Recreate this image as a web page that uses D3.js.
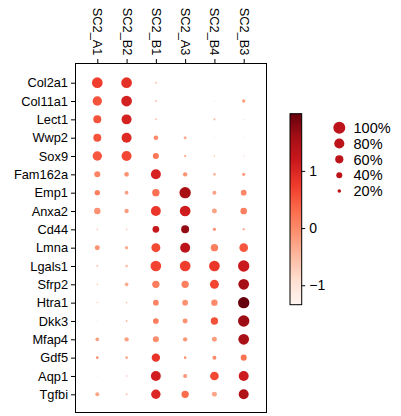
<!DOCTYPE html>
<html>
<head>
<meta charset="utf-8">
<script src="https://cdn.jsdelivr.net/npm/d3@7"></script>
<style>
  html, body { margin: 0; padding: 0; background: #fff; }
  svg text { font-family: "Liberation Sans", Arial, sans-serif; fill: #000; }
</style>
</head>
<body>
<div id="chart"></div>
<script>
// Cluster columns and marker genes
const groups = ["SC2_A1", "SC2_B2", "SC2_B1", "SC2_A3", "SC2_B4", "SC2_B3"];
const genes = ["Col2a1", "Col11a1", "Lect1", "Wwp2", "Sox9", "Fam162a", "Emp1", "Anxa2",
  "Cd44", "Lmna", "Lgals1", "Sfrp2", "Htra1", "Dkk3", "Mfap4", "Gdf5", "Aqp1", "Tgfbi"];

// Fraction of cells expressing each gene (rows follow genes, columns follow groups)
const fractions = [
  [0.86, 0.86, 0.09, 0.00, 0.00, 0.00],
  [0.72, 0.86, 0.09, 0.00, 0.04, 0.18],
  [0.58, 0.78, 0.09, 0.00, 0.11, 0.04],
  [0.58, 0.78, 0.28, 0.16, 0.04, 0.04],
  [0.72, 0.78, 0.40, 0.11, 0.07, 0.05],
  [0.40, 0.28, 0.78, 0.26, 0.13, 0.18],
  [0.34, 0.21, 0.52, 0.93, 0.23, 0.37],
  [0.43, 0.26, 0.78, 0.86, 0.31, 0.46],
  [0.07, 0.07, 0.46, 0.58, 0.16, 0.11],
  [0.31, 0.18, 0.68, 0.78, 0.52, 0.65],
  [0.09, 0.13, 0.86, 0.86, 0.86, 0.93],
  [0.07, 0.21, 0.52, 0.52, 0.68, 0.86],
  [0.05, 0.07, 0.37, 0.37, 0.43, 0.93],
  [0.04, 0.09, 0.37, 0.31, 0.52, 0.93],
  [0.21, 0.26, 0.40, 0.26, 0.31, 0.86],
  [0.13, 0.13, 0.62, 0.13, 0.23, 0.40],
  [0.04, 0.07, 0.78, 0.23, 0.65, 0.78],
  [0.23, 0.09, 0.72, 0.52, 0.31, 0.78]
];

// Scaled mean expression per gene and group
const expression = [
  [ 0.73,  0.86, -0.60, -1.00, -1.34, -1.00],
  [ 0.53,  1.06, -0.60, -1.00, -0.80, -0.22],
  [ 0.53,  1.06, -0.60, -1.00, -0.55, -0.80],
  [ 0.53,  0.95,  0.00, -0.34, -0.80, -0.80],
  [ 0.50,  0.63,  0.20, -0.40, -0.60, -0.70],
  [ 0.06, -0.09,  1.04, -0.10, -0.40, -0.20],
  [ 0.10, -0.20,  0.27,  1.56, -0.24,  0.03],
  [-0.07, -0.20,  0.80,  1.13, -0.26,  0.10],
  [-0.60, -0.60,  1.23,  1.70,  0.00, -0.24],
  [-0.10, -0.34,  0.63,  1.33,  0.10,  0.50],
  [-0.60, -0.50,  0.67,  0.73,  0.80,  1.17],
  [-0.60, -0.34,  0.13,  0.10,  0.65,  1.58],
  [-0.60, -0.60,  0.06, -0.07,  0.01,  2.00],
  [-0.80, -0.50,  0.13, -0.07,  0.55,  1.63],
  [-0.21, -0.24, -0.05, -0.14, -0.18,  1.55],
  [-0.05, -0.24,  0.82, -0.10,  0.00,  0.24],
  [-0.80, -0.60,  1.10, -0.13,  0.63,  1.14],
  [-0.26, -0.60,  0.98,  0.30, -0.28,  1.45]
];

const colorTicks = [-1, 0, 1];
const sizeLegend = [1.0, 0.8, 0.6, 0.4, 0.2];
const sizeLegendLabels = ["100%", "80%", "60%", "40%", "20%"];

// Reds palette (ColorBrewer, linear between stops)
const redsStops = ["#fff5f0", "#fee0d2", "#fcbba1", "#fc9272", "#fb6a4a",
  "#ef3b2c", "#cb181d", "#a50f15", "#67000d"];

const W = 401, H = 416;
const svg = d3.select("#chart").append("svg")
  .attr("width", W).attr("height", H);

const frame = { left: 75, top: 63, right: 266, bottom: 412 };

const x = d3.scalePoint().domain(groups).range([97.3, 243.7]);
const y = d3.scalePoint().domain(genes).range([82.7, 394.3]);

const valueExtent = d3.extent(expression.flat());
const color = d3.scaleLinear()
  .domain(d3.range(redsStops.length).map(i =>
    valueExtent[0] + (valueExtent[1] - valueExtent[0]) * i / (redsStops.length - 1)))
  .range(redsStops)
  .interpolate(d3.interpolateRgb)
  .clamp(true);

const radius = d3.scalePow().exponent(0.75).domain([0, 1]).range([0, 6]);

// Dots
const cells = [];
genes.forEach((g, i) => groups.forEach((c, j) => {
  cells.push({ gene: g, group: c, frac: fractions[i][j], value: expression[i][j] });
}));

svg.append("g").selectAll("circle")
  .data(cells.filter(d => d.frac > 0))
  .join("circle")
  .attr("cx", d => x(d.group))
  .attr("cy", d => y(d.gene))
  .attr("r", d => radius(d.frac))
  .attr("fill", d => color(d.value));

// Frame
svg.append("rect")
  .attr("x", frame.left + 0.5).attr("y", frame.top + 0.5)
  .attr("width", frame.right - frame.left)
  .attr("height", frame.bottom - frame.top)
  .attr("fill", "none").attr("stroke", "#000").attr("stroke-width", 1);

// Left axis (genes)
const yAxis = svg.append("g")
  .attr("transform", `translate(${frame.left + 0.5},0)`)
  .call(d3.axisLeft(y).tickSize(4.5).tickPadding(3));
yAxis.select(".domain").remove();
yAxis.selectAll("text")
  .style("font-size", "12.8px")
  .style("font-family", "'Liberation Sans', Arial, sans-serif");

// Top axis (groups), labels read top to bottom
const xAxis = svg.append("g")
  .attr("transform", `translate(0,${frame.top + 0.5})`)
  .call(d3.axisTop(x).tickSize(4.5).tickPadding(3));
xAxis.select(".domain").remove();
xAxis.selectAll("text")
  .style("font-size", "12.8px")
  .style("font-family", "'Liberation Sans', Arial, sans-serif")
  .attr("text-anchor", "end")
  .attr("transform", "translate(0,-8) rotate(90)")
  .attr("x", 0).attr("y", 0).attr("dy", "0.35em");

// Colorbar
const cb = { x: 290, y0: 113.7, y1: 304.7, w: 11.7 };
const cbScale = d3.scaleLinear().domain(valueExtent).range([cb.y1, cb.y0]);

const grad = svg.append("defs").append("linearGradient")
  .attr("id", "redsGrad")
  .attr("x1", 0).attr("y1", 1).attr("x2", 0).attr("y2", 0);
grad.selectAll("stop")
  .data(redsStops)
  .join("stop")
  .attr("offset", (d, i) => i / (redsStops.length - 1))
  .attr("stop-color", d => d);

svg.append("rect")
  .attr("x", cb.x).attr("y", cb.y0)
  .attr("width", cb.w).attr("height", cb.y1 - cb.y0)
  .attr("fill", "url(#redsGrad)")
  .attr("stroke", "#000").attr("stroke-width", 1);

const cbAxis = svg.append("g")
  .attr("transform", `translate(${cb.x + cb.w},0)`)
  .call(d3.axisRight(cbScale).tickValues(colorTicks).tickSize(3.5).tickPadding(4)
    .tickFormat(d => d < 0 ? "\u2212" + Math.abs(d) : String(d)));
cbAxis.select(".domain").remove();
cbAxis.selectAll("text")
  .style("font-size", "14px")
  .style("font-family", "'Liberation Sans', Arial, sans-serif");

// Size legend
const legendY = d3.scalePoint().domain(sizeLegendLabels).range([127.7, 191]);
const legend = svg.append("g");
legend.selectAll("circle")
  .data(sizeLegend)
  .join("circle")
  .attr("cx", 339.3)
  .attr("cy", (d, i) => legendY(sizeLegendLabels[i]))
  .attr("r", d => radius(d))
  .attr("fill", color(1.33));
legend.selectAll("text")
  .data(sizeLegendLabels)
  .join("text")
  .attr("x", 353.5)
  .attr("y", d => legendY(d))
  .attr("dy", "0.36em")
  .style("font-size", "14.5px")
  .text(d => d);
</script>
</body>
</html>
